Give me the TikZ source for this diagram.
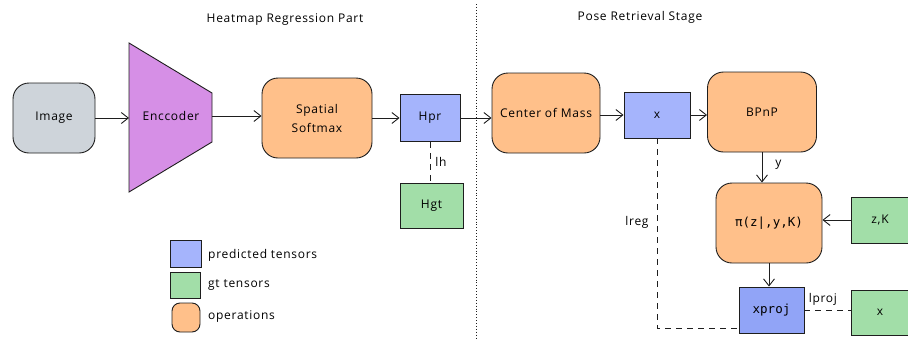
\documentclass[tikz,border=0pt]{standalone}
\usepackage{fontspec}
\setmainfont[LetterSpace=6]{Open Sans}
\newfontfamily\codefont{DejaVu Sans Mono}
\usetikzlibrary{arrows.meta,calc}
\definecolor{cgray}{HTML}{CED4DA}
\definecolor{cpurple}{HTML}{D68FE6}
\definecolor{corange}{HTML}{FFC08A}
\definecolor{cblue}{HTML}{A5B4FC}
\definecolor{cblued}{HTML}{91A4F7}
\definecolor{cgreen}{HTML}{A2DEA8}
\definecolor{cline}{HTML}{1E1E1E}
\tikzset{
  base/.style={draw=cline, line width=0.9pt, font=\fontsize{12}{14}\selectfont, align=center, inner sep=0pt},
  op/.style={base, fill=corange, rounded corners=16pt},
  pred/.style={base, fill=cblue},
  gt/.style={base, fill=cgreen},
  arr/.style={draw=cline, line width=0.9pt, -{Straight Barb[length=7pt,width=11pt]}},
  loss/.style={draw=cline, line width=0.9pt, dash pattern=on 6pt off 5pt},
  lbl/.style={font=\fontsize{12}{14}\selectfont, inner sep=1pt},
}
\begin{document}
\begin{tikzpicture}[x=1pt,y=-1pt]
\useasboundingbox (0,0) rectangle (908,338);
% titles
\node[lbl] (t1) at (285,20) {Heatmap Regression Part};
\node[lbl] (t2) at (640,17) {Pose Retrieval Stage};
\draw[cline, line width=0.9pt, dotted] (476,4) -- (476,338);
% nodes
\node[base, fill=cgray, rounded corners=16pt, minimum width=82pt, minimum height=70pt] (img) at (54,118) {Image};
\coordinate (encw) at (129,118);
\coordinate (ence) at (212,116);
\draw[base, fill=cpurple] (129,43) -- (212,93) -- (212,142) -- (129,192) -- cycle;
\node[lbl] (enc) at (171,116) {Enccoder};
\node[op, minimum width=110pt, minimum height=80pt] (ss) at (317,118) {Spatial\\[5pt]Softmax};
\node[pred, minimum width=60pt, minimum height=47pt] (hpr) at (430,118) {Hpr};
\node[gt, minimum width=63pt, minimum height=45pt] (hgt) at (431.5,205.5) {Hgt};
\node[op, minimum width=108pt, minimum height=80pt] (com) at (546,113) {Center of Mass};
\node[pred, minimum width=66pt, minimum height=46pt] (xb) at (657,115) {x};
\node[op, minimum width=109pt, minimum height=80pt] (bp) at (762,112) {BPnP};
\node[op, minimum width=106pt, minimum height=80pt] (pi) at (769,223) {\codefont\fontsize{12.5}{14}\selectfont π(z|,y,K)};
\node[gt, minimum width=58pt, minimum height=46pt] (zk) at (880,220) {z,K};
\node[base, fill=cblued, minimum width=65pt, minimum height=46pt] (xp) at (771.5,310) {\codefont\fontsize{12.5}{14}\selectfont xproj};
\node[gt, minimum width=58pt, minimum height=45pt] (xg) at (880,312.5) {x};
% arrows
\draw[arr] (img.east) -- (encw);
\draw[arr] (ence) -- (ence -| ss.west);
\draw[arr] (ss.east |- hpr.west) -- (hpr.west);
\draw[arr] (hpr.east) -- (hpr.east -| com.west);
\draw[arr] (com.east |- xb.west) -- (xb.west);
\draw[arr] (xb.east) -- (xb.east -| bp.west);
\draw[arr] (bp.south) -- node[lbl, right=12pt, pos=0.4] {y} (bp.south |- pi.north);
\draw[arr] (zk.west) -- (zk.west -| pi.east);
\draw[arr] (pi.south) -- (pi.south |- xp.north);
% losses
\draw[loss] (hpr.south) -- node[lbl, right=4pt] {lh} (hpr.south |- hgt.north);
\draw[loss] (xp.east) -- node[lbl, above=3pt, pos=0.4] {lproj} (xp.east -| xg.west);
\draw[loss] (xb.south) |- node[lbl, pos=0.22, left=7pt] {lreg} ([yshift=5pt]xp.south west);
% legend
\node[pred, minimum width=31pt, minimum height=27pt] (lg1) at (186,253.5) {};
\node[lbl, anchor=west] (lt1) at (207,255) {predicted tensors};
\node[gt, minimum width=30pt, minimum height=26pt] (lg2) at (185,285) {};
\node[lbl, anchor=west] (lt2) at (207,285) {gt tensors};
\node[base, fill=corange, rounded corners=8pt, minimum width=28pt, minimum height=29pt] (lg3) at (186,317.5) {};
\node[lbl, anchor=west] (lt3) at (207,317) {operations};
\end{tikzpicture}
\end{document}
